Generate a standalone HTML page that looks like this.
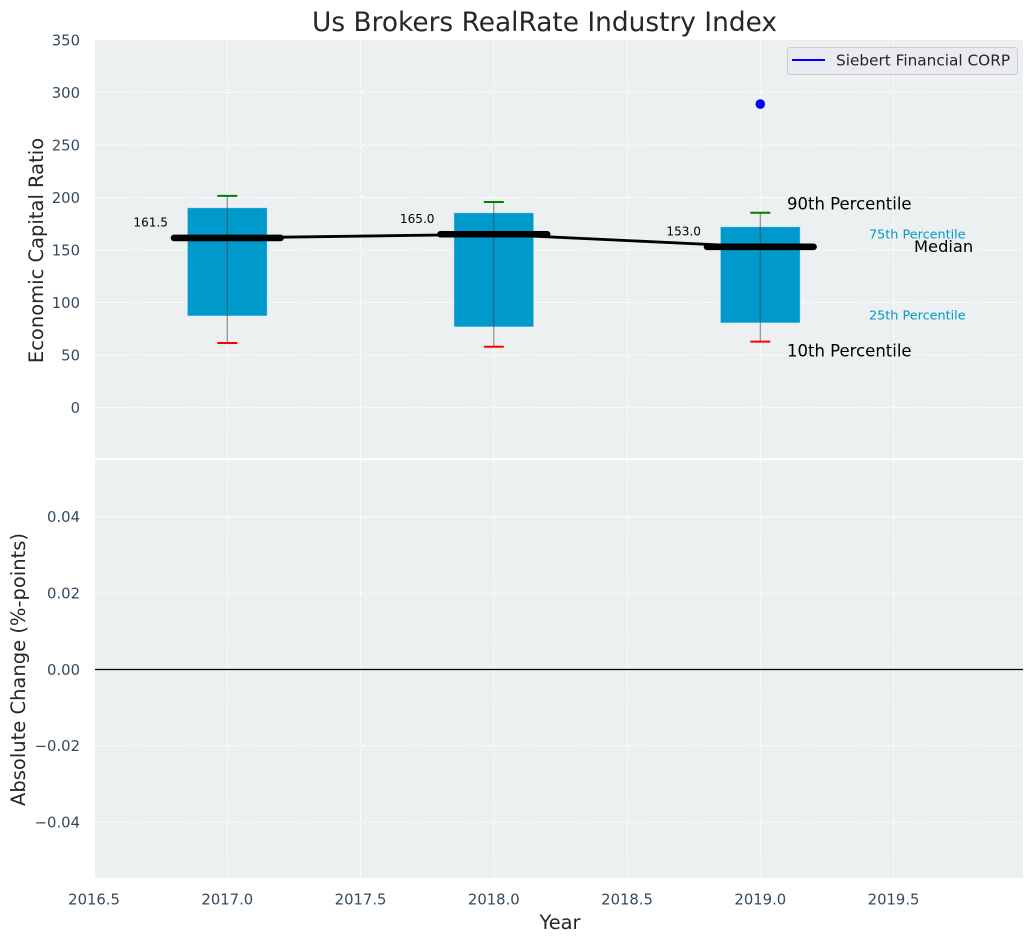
<!DOCTYPE html>
<html lang="en">
<head>
<meta charset="utf-8">
<title>Us Brokers RealRate Industry Index</title>
<style>
html,body{margin:0;padding:0;background:#fff;width:1034px;height:942px;overflow:hidden}
svg{display:block;font-family:"DejaVu Sans","Liberation Sans",sans-serif}
</style>
</head>
<body>
<svg id="chart" width="1034" height="942" viewBox="0 0 1034 942" xmlns="http://www.w3.org/2000/svg"></svg>
<script>
const years = [2017, 2018, 2019];
const p10 = [61.4, 57.9, 62.7];
const p25 = [87.1, 76.7, 80.5];
const medians = [161.5, 165.0, 153.0];
const p75 = [190.3, 185.5, 172.2];
const p90 = [201.6, 195.7, 185.5];
const companyValues = [null, null, 289];
const xTickValues = [2016.5, 2017, 2017.5, 2018, 2018.5, 2019, 2019.5];
const xTickLabels = ['2016.5', '2017.0', '2017.5', '2018.0', '2018.5', '2019.0', '2019.5'];
const topTickValues = [0, 50, 100, 150, 200, 250, 300, 350];
const topTickLabels = ['0', '50', '100', '150', '200', '250', '300', '350'];
const bottomTickValues = [-0.04, -0.02, 0, 0.02, 0.04];
const bottomTickLabels = ['\u22120.04', '\u22120.02', '0.00', '0.02', '0.04'];

const svg = document.getElementById('chart');
const NS = 'http://www.w3.org/2000/svg';
const plotLeft = 95, plotRight = 1023;
const topPanelTop = 40, topPanelBottom = 459, bottomPanelTop = 459, bottomPanelBottom = 878;
const pxPerYear = 266.5;

function xScale(v) { return 227.3 + (v - 2017) * pxPerYear; }
function yTop(v) { return 407.5 - v * 1.05; }
function yBottom(v) { return 669.5 - v * 3815; }

function make(tag, attrs, text) {
  const el = document.createElementNS(NS, tag);
  Object.keys(attrs).forEach(function (k) { el.setAttribute(k, attrs[k]); });
  if (text !== undefined) el.textContent = text;
  svg.appendChild(el);
  return el;
}

let el;
el = make('rect', {x: plotLeft, y: topPanelTop, width: plotRight - plotLeft, height: topPanelBottom - topPanelTop, fill: '#ecf0f1'});


el = make('rect', {x: plotLeft, y: bottomPanelTop, width: plotRight - plotLeft, height: bottomPanelBottom - bottomPanelTop, fill: '#ecf0f1'});



const gridStyle = {stroke: '#ffffff', 'stroke-width': 1, 'stroke-dasharray': '5 2', opacity: 0.9};
xTickValues.forEach(function (v) {
  if (v > 2016.51) {
    let g = make('line', Object.assign({x1: xScale(v), x2: xScale(v), y1: topPanelTop, y2: topPanelBottom}, gridStyle));
    
    
    g = make('line', Object.assign({x1: xScale(v), x2: xScale(v), y1: bottomPanelTop, y2: bottomPanelBottom}, gridStyle));
    
    
  }
});
topTickValues.forEach(function (v, i) {
  if (v < 350) {
    const g = make('line', Object.assign({x1: plotLeft, x2: plotRight, y1: yTop(v), y2: yTop(v)}, gridStyle));
    
    
  }
  const t = make('text', {x: 80, y: yTop(v) + 5.3, 'text-anchor': 'end', 'font-size': 14.8, fill: '#34495e'}, topTickLabels[i]);
  
  
});
bottomTickValues.forEach(function (v, i) {
  const g = make('line', Object.assign({x1: plotLeft, x2: plotRight, y1: yBottom(v), y2: yBottom(v)}, gridStyle));
  
  
  const t = make('text', {x: 80, y: yBottom(v) + 5.3, 'text-anchor': 'end', 'font-size': 14.8, fill: '#34495e'}, bottomTickLabels[i]);
  
  
});
xTickValues.forEach(function (v, i) {
  const t = make('text', {x: xScale(v), y: 904.5, 'text-anchor': 'middle', 'font-size': 14.8, fill: '#34495e'}, xTickLabels[i]);
  
  
});

el = make('line', {x1: plotLeft, x2: 1034 - 11, y1: 459.3, y2: 459.3, stroke: '#ffffff', 'stroke-width': 2});



el = make('line', {x1: plotLeft, x2: plotRight, y1: yBottom(0), y2: yBottom(0), stroke: '#000', 'stroke-width': 1.2});



years.forEach(function (yr, i) {
  const cx = xScale(yr);
  const half = 0.15 * pxPerYear;
  let m = make('rect', {x: cx - half, y: yTop(p75[i]), width: half * 2, height: yTop(p25[i]) - yTop(p75[i]), fill: '#0099cc', stroke: '#ffffff', 'stroke-opacity': 0.5, 'stroke-width': 1});
  
  
  m = make('line', {x1: cx, x2: cx, y1: yTop(p90[i]), y2: yTop(p10[i]), stroke: '#444', 'stroke-opacity': 0.6, 'stroke-width': 1.2});
  
  
  m = make('line', {x1: cx - 10, x2: cx + 10, y1: yTop(p90[i]), y2: yTop(p90[i]), stroke: '#008000', 'stroke-width': 2});
  
  
  m = make('line', {x1: cx - 10, x2: cx + 10, y1: yTop(p10[i]), y2: yTop(p10[i]), stroke: '#ff0000', 'stroke-width': 2});
  
  
});

const trendPoints = years.map(function (yr, i) { return xScale(yr) + ',' + yTop(medians[i]); }).join(' ');
el = make('polyline', {points: trendPoints, fill: 'none', stroke: '#000', 'stroke-width': 2.8});



years.forEach(function (yr, i) {
  const cx = xScale(yr);
  const my = yTop(medians[i]);
  let m = make('line', {x1: cx - 0.2 * pxPerYear, x2: cx + 0.2 * pxPerYear, y1: my, y2: my, stroke: '#000', 'stroke-width': 6.6, 'stroke-linecap': 'round'});
  
  
  m = make('text', {x: cx - 59.3, y: my - 11.5, 'text-anchor': 'end', 'font-size': 12.1, fill: '#000'}, medians[i].toFixed(1));
  
  
  if (companyValues[i] !== null) {
    m = make('circle', {cx: cx, cy: yTop(companyValues[i]), r: 4.8, fill: '#0000ff'});
    
    
  }
});

const last = years.length - 1;
el = make('text', {x: 787, y: yTop(p90[last]) - 3.2, 'font-size': 16.5, fill: '#000'}, '90th Percentile');


el = make('text', {x: 787, y: yTop(p10[last]) + 15, 'font-size': 16.5, fill: '#000'}, '10th Percentile');


el = make('text', {x: 869, y: yTop(p75[last]) + 11.6, 'font-size': 12.8, fill: '#0099cc'}, '75th Percentile');


el = make('text', {x: 869, y: yTop(p25[last]) - 3.7, 'font-size': 12.8, fill: '#0099cc'}, '25th Percentile');


el = make('text', {x: 914, y: yTop(medians[last]) + 5, 'font-size': 16.3, fill: '#000'}, 'Median');



el = make('rect', {x: 787.5, y: 47.5, width: 230, height: 27, rx: 3, fill: '#eaeaf2', stroke: '#cccccc', 'stroke-width': 1});


el = make('line', {x1: 792, x2: 825, y1: 60, y2: 60, stroke: '#0000ff', 'stroke-width': 2});


el = make('text', {x: 836, y: 65.5, 'font-size': 15.3, fill: '#262626'}, 'Siebert Financial CORP');



el = make('text', {x: 544.5, y: 31, 'text-anchor': 'middle', 'font-size': 26.4, fill: '#262626'}, 'Us Brokers RealRate Industry Index');


el = make('text', {x: 560, y: 929, 'text-anchor': 'middle', 'font-size': 19.4, fill: '#262626'}, 'Year');


el = make('text', {x: 0, y: 0, 'text-anchor': 'middle', 'font-size': 19.5, fill: '#262626', transform: 'translate(43 250.5) rotate(-90)'}, 'Economic Capital Ratio');


el = make('text', {x: 0, y: 0, 'text-anchor': 'middle', 'font-size': 19.5, fill: '#262626', transform: 'translate(25 669.5) rotate(-90)'}, 'Absolute Change (%-points)');


</script>
</body>
</html>
